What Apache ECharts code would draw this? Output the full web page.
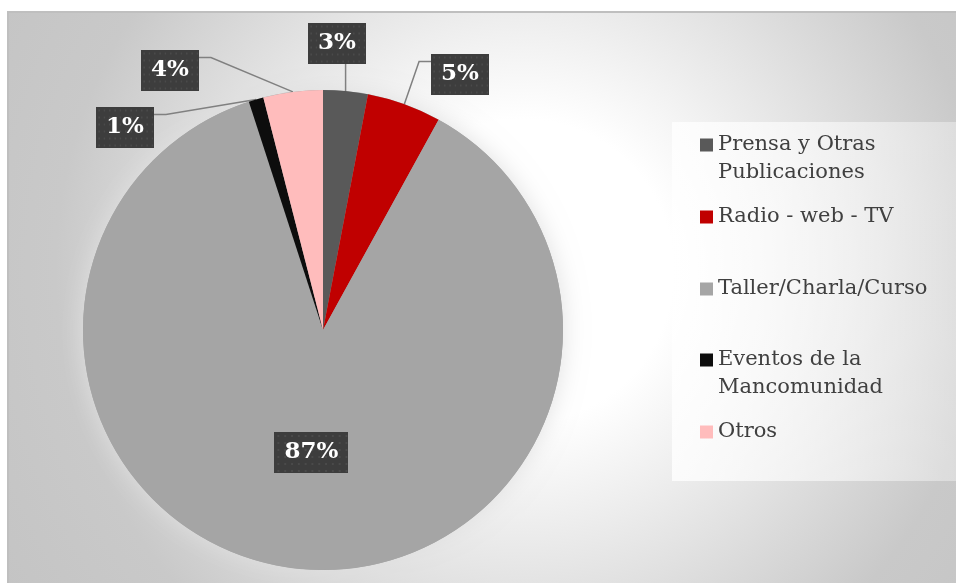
<!DOCTYPE html>
<html>
<head>
<meta charset="utf-8">
<script src="https://cdn.jsdelivr.net/npm/echarts@6/dist/echarts.min.js"></script>
<style>
  html, body { margin: 0; padding: 0; background: #ffffff; }
  #chart { width: 956px; height: 583px; }
</style>
</head>
<body>
<div id="chart"></div>
<script>
// Share of dissemination channels (percent)
const categories = [
  'Prensa y Otras Publicaciones',
  'Radio - web - TV',
  'Taller/Charla/Curso',
  'Eventos de la Mancomunidad',
  'Otros'
];
const values = [3, 5, 87, 1, 4];
const legendText = [
  'Prensa y Otras\nPublicaciones',
  'Radio - web - TV',
  'Taller/Charla/Curso',
  'Eventos de la\nMancomunidad',
  'Otros'
];
const colors = ['#595959', '#c00000', '#a5a5a5', '#0d0d0d', '#ffbcbc'];

// Layout constants
const pieCenter = [323, 330];
const pieRadius = 240;
const calloutFont = 'bold 23px "DejaVu Serif"';
const calloutPadding = [6, 10];
const calloutLineHeight = 29;
// callout box centres and the box side the leader line attaches to
const calloutCentres = { 0: [337, 43], 1: [460, 74], 3: [125, 127], 4: [170, 70] };
const calloutSide = { 0: 'bottom', 1: 'left', 3: 'right', 4: 'right' };
const elbowLength = 12;
const legendRowCentres = [145, 217, 289, 360, 432];
const legendLineHeight = 28;

const total = values.reduce((a, b) => a + b, 0);
const percentText = (i) => Math.round(values[i] / total * 100) + '%';

// Point on the rim of the pie at the middle angle of slice i (clockwise from 12 o'clock)
function rimPoint(i) {
  let before = 0;
  for (let k = 0; k < i; k++) before += values[k];
  const theta = (before + values[i] / 2) / total * Math.PI * 2;
  return [pieCenter[0] + pieRadius * Math.sin(theta), pieCenter[1] - pieRadius * Math.cos(theta)];
}

// Size of a callout box for a given text
const measureCtx = document.createElement('canvas').getContext('2d');
function calloutSize(text) {
  measureCtx.font = calloutFont;
  const w = measureCtx.measureText(text).width + calloutPadding[1] * 2;
  const h = calloutLineHeight + calloutPadding[0] * 2;
  return [w, h];
}

// Dotted dark fill used behind the percentage callouts
function dottedTile() {
  const c = document.createElement('canvas');
  c.width = 76; c.height = 41;
  const g = c.getContext('2d');
  g.fillStyle = '#3d3d3d';
  g.fillRect(0, 0, c.width, c.height);
  g.fillStyle = '#4a4a4a';
  for (let y = 3; y < c.height; y += 7) {
    for (let x = 3; x < c.width; x += 7) {
      g.fillRect(x, y, 2, 2);
    }
  }
  return c;
}
const tile = dottedTile();

const chart = echarts.init(document.getElementById('chart'), null, { renderer: 'canvas' });

const pieData = categories.map((name, i) => {
  const item = { name: name, value: values[i], itemStyle: { color: colors[i] } };
  if (i === 2) {
    item.label = { position: 'inside' };
    item.labelLine = { show: false };
  }
  return item;
});

const legends = categories.map((name, i) => {
  const lines = legendText[i].split('\n').length;
  // a blank first line keeps the marker level with the first text line
  const shown = lines > 1 ? ' \n' + legendText[i] : legendText[i];
  return {
    data: [name],
    orient: 'vertical',
    left: 700,
    top: legendRowCentres[i] - (2 * lines - 1) * legendLineHeight / 2,
    padding: 0,
    itemWidth: 13,
    itemHeight: 13,
    icon: 'rect',
    selectedMode: false,
    z: 5,
    formatter: () => shown,
    textStyle: {
      fontFamily: 'DejaVu Serif',
      fontSize: 21,
      color: '#404040',
      lineHeight: legendLineHeight
    }
  };
});

const option = {
  animation: false,
  graphic: [
    {
      type: 'rect',
      z: -20,
      silent: true,
      shape: { x: 8, y: 12, width: 952, height: 575 },
      style: {
        fill: {
          type: 'radial', x: 0.54, y: 0.45, r: 1.05,
          colorStops: [
            { offset: 0, color: '#ffffff' },
            { offset: 0.25, color: '#ffffff' },
            { offset: 0.77, color: '#c9c9c9' },
            { offset: 1, color: '#c4c4c4' }
          ]
        },
        stroke: '#bfbfbf',
        lineWidth: 2
      }
    },
    {
      type: 'rect',
      z: -10,
      silent: true,
      shape: { x: 672, y: 122, width: 290, height: 359 },
      style: {
        fill: {
          type: 'linear', x: 0, y: 0, x2: 1, y2: 0,
          colorStops: [
            { offset: 0, color: 'rgba(255,255,255,0.8)' },
            { offset: 1, color: 'rgba(255,255,255,0.35)' }
          ]
        }
      }
    }
  ],
  legend: legends,
  series: [
    {
      // soft halo beneath the pie
      type: 'pie',
      silent: true,
      z: 1,
      center: pieCenter,
      radius: pieRadius,
      label: { show: false },
      labelLine: { show: false },
      itemStyle: { color: '#a5a5a5', shadowBlur: 24, shadowColor: '#e0e0e0' },
      data: [{ name: 'halo', value: 1 }]
    },
    {
      type: 'pie',
      z: 2,
      center: pieCenter,
      radius: pieRadius,
      startAngle: 90,
      clockwise: true,
      avoidLabelOverlap: false,
      data: pieData,
      label: {
        show: true,
        position: 'outside',
        formatter: (p) => percentText(p.dataIndex),
        fontFamily: 'DejaVu Serif',
        fontWeight: 'bold',
        fontSize: 23,
        lineHeight: calloutLineHeight,
        color: '#ffffff',
        backgroundColor: { image: tile },
        padding: calloutPadding,
        shadowColor: 'rgba(0,0,0,0.5)',
        shadowBlur: 4,
        shadowOffsetX: 2,
        shadowOffsetY: 3
      },
      labelLine: {
        show: true,
        length: 10,
        length2: 12,
        lineStyle: { color: '#808080', width: 1.5 }
      },
      labelLayout: (params) => {
        const i = params.dataIndex;
        const c = calloutCentres[i];
        if (!c) return {};
        const size = calloutSize(percentText(i));
        const w = size[0], h = size[1];
        const rim = rimPoint(i);
        const attachY = c[1] - h / 2 + 8;
        let pts;
        if (calloutSide[i] === 'bottom') {
          pts = [rim, [rim[0], c[1] + h / 2]];
        } else if (calloutSide[i] === 'left') {
          const edge = c[0] - w / 2;
          pts = [rim, [edge - elbowLength, attachY], [edge, attachY]];
        } else {
          const edge = c[0] + w / 2;
          pts = [rim, [edge + elbowLength, attachY], [edge, attachY]];
        }
        return { x: c[0], y: c[1], align: 'center', verticalAlign: 'middle', labelLinePoints: pts };
      }
    }
  ]
};

chart.setOption(option);
</script>
</body>
</html>
